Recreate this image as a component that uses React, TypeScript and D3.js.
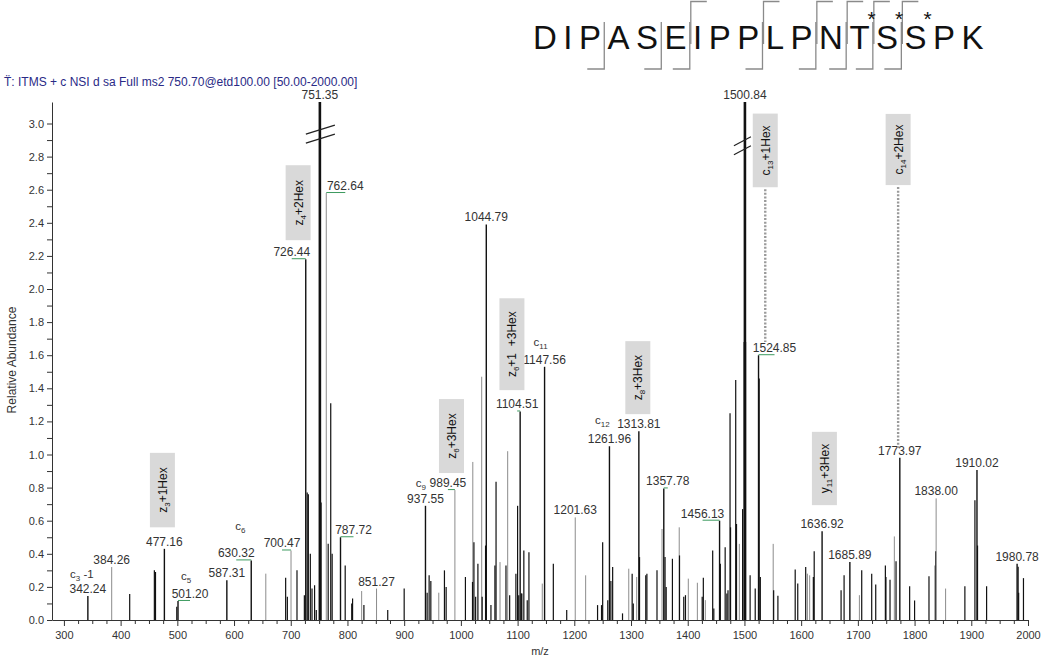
import React, { Component } from 'react';
import * as d3 from 'd3';

const scanTitle = 'T\u0308: ITMS + c NSI d sa Full ms2 750.70@etd100.00 [50.00-2000.00]';

// peptide and its fragment sites
const peptide = ['D', 'I', 'P', 'A', 'S', 'E', 'I', 'P', 'P', 'L', 'P', 'N', 'T', 'S', 'S', 'P', 'K'];
const cBreaks = [3, 5, 6, 9, 11, 12, 13, 14];
const zBreaks = [6, 9, 11, 12, 13, 14];
const glycoSites = [12, 13, 14];

// [m/z, relative abundance]
const labeledPeaks = [
    [342.24, 0.145], [384.26, 0.32], [477.16, 0.43], [501.20, 0.115], [587.31, 0.24],
    [630.32, 0.36], [700.47, 0.42], [726.44, 2.18], [751.35, 3.13], [762.64, 2.58],
    [787.72, 0.50], [851.27, 0.19], [937.55, 0.69], [989.45, 0.785], [1044.79, 2.39],
    [1104.51, 1.26], [1147.56, 1.53], [1201.63, 0.62], [1261.96, 1.05], [1313.81, 1.14],
    [1357.78, 0.795], [1456.13, 0.60], [1500.84, 3.13], [1524.85, 1.60], [1636.92, 0.537],
    [1685.89, 0.35], [1773.97, 0.98], [1838.00, 0.735], [1910.02, 0.906], [1980.78, 0.34]
];
const grayLabeled = [384.26, 700.47, 762.64, 851.27, 989.45, 1201.63, 1838.00];
const brokenPeaks = [751.35, 1500.84];

const blackPeaks = [
    [416, 0.157], [459.5, 0.30], [461.5, 0.29], [499, 0.08], [691, 0.255], [694, 0.14], [711, 0.30],
    [724, 0.15], [729, 0.77], [731, 0.76], [734.5, 0.40], [737.5, 0.19], [742, 0.21], [745, 0.06],
    [753.5, 0.71], [766, 0.46], [770.5, 1.31], [773, 0.40], [796, 0.33], [807.5, 0.10], [809, 0.13],
    [829, 0.09], [871, 0.06], [900, 0.19], [940.5, 0.165], [944, 0.27], [947, 0.235], [971, 0.30],
    [974, 0.20], [1008, 0.26], [1020.5, 0.23], [1023, 0.47], [1026, 0.14], [1030, 0.34], [1037.5, 0.14],
    [1043.5, 0.45], [1053, 0.09], [1060, 0.33], [1062, 0.835], [1079.5, 0.33], [1086, 0.15], [1097, 0.28],
    [1100, 0.69], [1102, 0.15], [1106.5, 0.16], [1107.5, 0.16], [1111, 0.42], [1117, 0.12], [1120, 0.41],
    [1163, 0.34], [1186.6, 0.06], [1241, 0.09], [1248, 0.09], [1250, 0.47], [1259, 0.12], [1264.5, 0.235],
    [1267.6, 0.32], [1285, 0.04], [1302, 0.28], [1304, 0.10], [1315, 0.38], [1326, 0.27], [1328, 0.28],
    [1345.8, 0.30], [1360, 0.38], [1362, 0.20], [1373, 0.37], [1385.5, 0.39], [1393, 0.14], [1396, 0.15],
    [1425.5, 0.14], [1427.5, 0.255], [1444, 0.42], [1446, 0.07], [1457.5, 0.34], [1466, 0.44], [1469, 0.16],
    [1471, 0.18], [1474.6, 1.25], [1475.5, 0.56], [1484.6, 1.45], [1486, 0.58], [1496.7, 0.67], [1499.5, 1.68],
    [1502, 1.68], [1510, 0.27], [1519, 0.19], [1526, 1.46], [1528, 0.26], [1551.5, 0.18], [1559, 0.146],
    [1589.5, 0.305], [1594, 0.22], [1608, 0.32], [1621.5, 0.26], [1623, 0.415], [1670.4, 0.18], [1675.7, 0.27],
    [1706.8, 0.30], [1724.4, 0.28], [1731.5, 0.215], [1748.5, 0.33], [1749.5, 0.26], [1756.7, 0.243],
    [1767.3, 0.355], [1791.3, 0.204], [1800, 0.118], [1825.4, 0.264], [1836.5, 0.33], [1837.2, 0.415],
    [1888.7, 0.204], [1906.4, 0.724], [1911, 0.45], [1927, 0.204], [1982.6, 0.322], [1983.5, 0.165], [1992, 0.253]
];
const grayPeaks = [
    [656, 0.28], [825, 0.175], [961, 0.165], [1021, 0.955], [1036.7, 1.47], [1069, 0.35], [1082.5, 1.02],
    [1143.5, 0.22], [1220, 0.27], [1296, 0.31], [1310, 0.26], [1354.7, 0.55], [1385, 0.56], [1401, 0.25],
    [1417, 0.225], [1431, 0.12], [1491, 0.46], [1550.7, 0.46], [1611, 0.28], [1615, 0.27], [1702.7, 0.15],
    [1764.3, 0.505], [1854.7, 0.19]
];

// c ion tags written next to peak labels
const ionTags = [
    { peak: 342.24, ion: 'c', sub: '3', rest: ' -1' },
    { peak: 501.20, ion: 'c', sub: '5', rest: '' },
    { peak: 630.32, ion: 'c', sub: '6', rest: '' },
    { peak: 989.45, ion: 'c', sub: '9', rest: '' },
    { peak: 1147.56, ion: 'c', sub: '11', rest: '' },
    { peak: 1261.96, ion: 'c', sub: '12', rest: '' }
];

// glycan fragment boxes: [ion, subscript, modification]
const glycoIons = [
    ['z', '3', '+1Hex'], ['z', '4', '+2Hex'], ['z', '6', '+3Hex'], ['z', '6', '+1  +3Hex'],
    ['z', '8', '+3Hex'], ['c', '13', '+1Hex'], ['c', '14', '+2Hex'], ['y', '11', '+3Hex']
];

const yTicks = d3.range(0, 31).map((i) => i / 10);
const xTicks = d3.range(300, 2001, 25);

// ---- layout (not data) ----
const font = 'Arial, "Liberation Sans", sans-serif';
const labelShift = { '501.20': 12, '630.32': -15, '700.47': -9, '726.44': -14, '762.64': 19, '787.72': 13, '989.45': -7, '1104.51': -3, '1357.78': 4, '1456.13': -17, '1524.85': 16 };
const tagOffset = [[-6, -15, 'middle'], [-4, -18, 'middle'], [4, -27, 'middle'], [-22, 0, 'end'], [-4, -18, 'middle'], [-7, -19, 'middle']];
// box centre m/z, bottom and top in abundance units
const glycoBoxAt = [[473.7, 0.56, 1.01], [713, 2.295, 2.748], [983.4, 0.888, 1.335], [1090, 1.389, 1.944], [1312, 1.244, 1.685], [1536.7, 2.615, 3.06], [1771, 2.628, 3.058], [1641, 0.694, 1.137]];
const glycoLeaders = [[5, 1.68], [6, 1.04]];
const breakAt = { '751.35': [2.96, -14, 15], '1500.84': [2.89, -11, 6] };
const letterWidth = { D: 0.722, I: 0.278, P: 0.667, A: 0.667, S: 0.667, E: 0.667, L: 0.556, N: 0.722, T: 0.611, K: 0.667 };

class SpectrumChart extends Component {
    svg: any;

    componentDidMount() {
        this.update();
    }

    componentDidUpdate() {
        this.update();
    }

    update() {
        const svg = d3.select(this.svg);
        svg.selectAll('*').remove();

        const x = d3.scaleLinear().domain([279, 2000]).range([52, 1028]);
        const y = d3.scaleLinear().domain([0, 3.13]).range([620, 102]);

        svg.append('text')
            .attr('x', 4).attr('y', 86)
            .attr('font-family', font).attr('font-size', 12)
            .attr('fill', '#2a2a86')
            .text(scanTitle);

        this.drawSequence(svg);

        // peaks
        const peaks = svg.append('g');
        peaks.selectAll('line.gray').data(grayPeaks).join('line')
            .attr('class', 'gray')
            .attr('x1', (d) => x(d[0])).attr('x2', (d) => x(d[0]))
            .attr('y1', y(0)).attr('y2', (d) => y(d[1]))
            .attr('stroke', '#8c8c8c').attr('stroke-width', 1);
        peaks.selectAll('line.black').data(blackPeaks).join('line')
            .attr('class', 'black')
            .attr('x1', (d) => x(d[0])).attr('x2', (d) => x(d[0]))
            .attr('y1', y(0)).attr('y2', (d) => y(d[1]))
            .attr('stroke', '#111').attr('stroke-width', 1.2);
        peaks.selectAll('line.main').data(labeledPeaks).join('line')
            .attr('class', 'main')
            .attr('x1', (d) => x(d[0])).attr('x2', (d) => x(d[0]))
            .attr('y1', y(0)).attr('y2', (d) => y(d[1]))
            .attr('stroke', (d) => grayLabeled.includes(d[0]) ? '#8c8c8c' : '#111')
            .attr('stroke-width', (d) => brokenPeaks.includes(d[0]) ? 2.6 : (grayLabeled.includes(d[0]) ? 1 : 1.4));

        // axis breaks on the clipped peaks
        brokenPeaks.forEach((mz) => {
            const [v, l, r] = breakAt[mz.toFixed(2)];
            [0, 9].forEach((off) => {
                peaks.append('line')
                    .attr('x1', x(mz) + l).attr('y1', y(v) + off + 4)
                    .attr('x2', x(mz) + r).attr('y2', y(v) + off - 5)
                    .attr('stroke', '#222').attr('stroke-width', 1.2);
            });
        });

        // axes
        const yAxis = d3.axisLeft(y).tickValues(yTicks).tickSize(5).tickSizeOuter(0)
            .tickFormat((d, i) => i % 2 === 0 ? d3.format('.1f')(d) : '');
        const gy = svg.append('g').attr('transform', 'translate(52,0)').call(yAxis);

        const xAxis = d3.axisBottom(x).tickValues(xTicks).tickSizeOuter(0)
            .tickFormat((d) => d % 100 === 0 ? String(d) : '');
        const gx = svg.append('g').attr('transform', 'translate(0,620)').call(xAxis);
        gx.selectAll('.tick line').attr('y2', (d) => d % 100 === 0 ? 6 : 4);
        gx.selectAll('.tick text').attr('dy', '0.95em');

        [gx, gy].forEach((g) => {
            g.selectAll('path, line').attr('stroke', '#333');
            g.selectAll('text').attr('font-family', font).attr('font-size', 11).attr('fill', '#333');
        });

        svg.append('text')
            .attr('transform', 'translate(16,360) rotate(-90)')
            .attr('text-anchor', 'middle')
            .attr('font-family', font).attr('font-size', 12).attr('fill', '#333')
            .text('Relative Abundance');
        svg.append('text')
            .attr('x', 540).attr('y', 655)
            .attr('text-anchor', 'middle')
            .attr('font-family', font).attr('font-size', 11).attr('fill', '#333')
            .text('m/z');

        // peak labels
        const labelX = (mz) => x(mz) + (labelShift[mz.toFixed(2)] || 0);
        const labelY = (v) => y(v) - 3;
        const labels = svg.append('g');
        labels.selectAll('line').data(labeledPeaks.filter((d) => labelShift[d[0].toFixed(2)])).join('line')
            .attr('x1', (d) => x(d[0])).attr('x2', (d) => labelX(d[0]))
            .attr('y1', (d) => y(d[1]) - 0.5).attr('y2', (d) => y(d[1]) - 0.5)
            .attr('stroke', '#3c9a5f').attr('stroke-width', 1);
        labels.selectAll('text').data(labeledPeaks).join('text')
            .attr('x', (d) => labelX(d[0]))
            .attr('y', (d) => labelY(d[1]))
            .attr('text-anchor', 'middle')
            .attr('font-family', font).attr('font-size', 12).attr('fill', '#333')
            .text((d) => d[0].toFixed(2));

        // c ion tags
        ionTags.forEach((t, i) => {
            const peak = labeledPeaks.find((d) => d[0] === t.peak);
            const [dx, dy, anchor] = tagOffset[i];
            const txt = svg.append('text')
                .attr('x', labelX(peak[0]) + dx).attr('y', labelY(peak[1]) + dy)
                .attr('text-anchor', anchor)
                .attr('font-family', font).attr('font-size', 11.5).attr('fill', '#333');
            txt.append('tspan').text(t.ion);
            txt.append('tspan').attr('font-size', 8).attr('dy', 3).text(t.sub);
            if (t.rest) txt.append('tspan').attr('dy', -3).text(t.rest);
        });

        // glycan fragment boxes
        glycoIons.forEach((ion, i) => {
            const [mz, lo, hi] = glycoBoxAt[i];
            const cx = x(mz);
            svg.append('rect')
                .attr('x', cx - 12.5).attr('y', y(hi))
                .attr('width', 25).attr('height', y(lo) - y(hi))
                .attr('fill', '#d9d9d9');
            const txt = svg.append('text')
                .attr('transform', `translate(${cx + 4.5},${(y(lo) + y(hi)) / 2}) rotate(-90)`)
                .attr('text-anchor', 'middle')
                .attr('font-family', font).attr('font-size', 12).attr('fill', '#111')
                .attr('xml:space', 'preserve').style('white-space', 'pre');
            txt.append('tspan').text(ion[0]);
            txt.append('tspan').attr('font-size', 8).attr('dy', 3).text(ion[1]);
            txt.append('tspan').attr('dy', -3).text(ion[2]);
        });
        glycoLeaders.forEach(([i, to]) => {
            const [mz, lo] = glycoBoxAt[i];
            svg.append('line')
                .attr('x1', x(mz)).attr('x2', x(mz))
                .attr('y1', y(lo) + 2).attr('y2', y(to))
                .attr('stroke', '#9a9a9a').attr('stroke-width', 2.4)
                .attr('stroke-dasharray', '2,1.6');
        });
    }

    drawSequence(svg) {
        const fs = 33;
        const gap = 6.5;
        let pos = 533;
        const letters = peptide.map((ch) => {
            const w = letterWidth[ch] * fs;
            const r = { ch, left: pos, right: pos + w, cx: pos + w / 2 };
            pos += w + gap;
            return r;
        });
        const gapX = (g) => (letters[g - 1].right + letters[g].left) / 2;

        const seq = svg.append('g');
        seq.selectAll('text.aa').data(letters).join('text')
            .attr('class', 'aa')
            .attr('x', (d) => d.cx).attr('y', 49)
            .attr('text-anchor', 'middle')
            .attr('font-family', font).attr('font-size', fs).attr('fill', '#111')
            .text((d) => d.ch);

        seq.selectAll('path.c').data(cBreaks).join('path')
            .attr('class', 'c')
            .attr('d', (g) => `M${gapX(g) - 17},69H${gapX(g)}V22`)
            .attr('fill', 'none').attr('stroke', '#8a8a8a').attr('stroke-width', 1.3);
        seq.selectAll('path.z').data(zBreaks).join('path')
            .attr('class', 'z')
            .attr('d', (g) => `M${gapX(g) + 1},44V1.5H${gapX(g) + 17}`)
            .attr('fill', 'none').attr('stroke', '#8a8a8a').attr('stroke-width', 1.3);

        seq.selectAll('text.star').data(glycoSites).join('text')
            .attr('class', 'star')
            .attr('x', (i) => letters[i].cx + 12).attr('y', 26)
            .attr('text-anchor', 'middle')
            .attr('font-family', font).attr('font-size', 21).attr('fill', '#111')
            .text('*');
    }

    render() {
        return (
            <svg ref={(node) => { this.svg = node; }}
                width={1050} height={660}
                style={{ position: 'absolute', left: 0, top: 0, background: '#fff' }} />
        );
    }
}

export default function App() {
    return <SpectrumChart />;
}
